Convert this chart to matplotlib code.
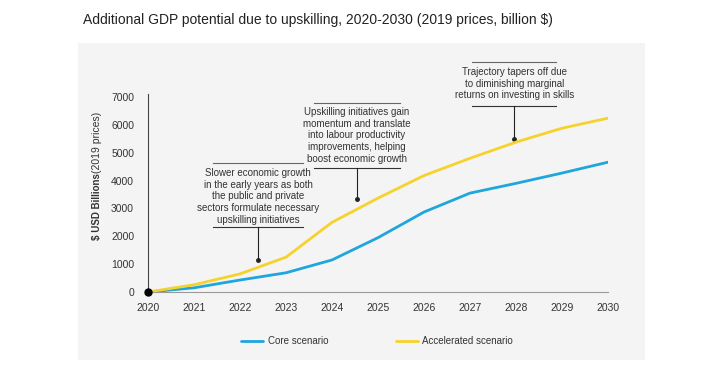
import matplotlib.pyplot as plt
from matplotlib.patches import Rectangle

plt.rcParams['font.family'] = ['Liberation Sans', 'DejaVu Sans']

years = [2020, 2021, 2022, 2023, 2024, 2025, 2026, 2027, 2028, 2029, 2030]
core = [0, 150, 430, 690, 1150, 1950, 2870, 3550, 3900, 4270, 4660]
accelerated = [0, 260, 650, 1250, 2500, 3370, 4180, 4800, 5380, 5880, 6240]
yticks = [0, 1000, 2000, 3000, 4000, 5000, 6000, 7000]

notes = [
    "Slower economic growth\nin the early years as both\nthe public and private\nsectors formulate necessary\nupskilling initiatives",
    "Upskilling initiatives gain\nmomentum and translate\ninto labour productivity\nimprovements, helping\nboost economic growth",
    "Trajectory tapers off due\nto diminishing marginal\nreturns on investing in skills",
]
# (x centre, half width, top rule, bottom rule, text centre, arrow tip)
note_pos = [
    (2022.39, 0.98, 4630, 2330, 3430, 1150),
    (2024.54, 0.93, 6800, 4450, 5620, 3340),
    (2027.96, 0.92, 8260, 6680, 7480, 5490),
]

blue = '#1ea6dd'
yellow = '#f5d22c'
txt = '#333333'

fig = plt.figure(figsize=(7.2, 3.79), dpi=100)
fig.patch.set_facecolor('white')
fig.patches.append(Rectangle((78 / 720, 1 - 360 / 379), (645 - 78) / 720, (360 - 43) / 379,
                             transform=fig.transFigure, facecolor='#f5f4f4',
                             edgecolor='none', zorder=-1))

fig.text(83 / 720, 1 - 20 / 379, "Additional GDP potential due to upskilling, 2020-2030 (2019 prices, billion \\$)",
         fontsize=10, color='#222222', va='center', ha='left')

ax = fig.add_axes([148 / 720, 1 - 292 / 379, 460 / 720, 195 / 379])
ax.set_zorder(2)
ax.set_facecolor('none')
ax.plot(years, core, color=blue, lw=2, label='Core scenario', zorder=3, solid_capstyle='round')
ax.plot(years, accelerated, color=yellow, lw=2, label='Accelerated scenario', zorder=3,
        solid_capstyle='round')
ax.plot([years[0]], [core[0]], 'o', color='black', ms=5, clip_on=False, zorder=5)

ax.set_xlim(2020, 2030)
ax.set_ylim(0, 7000)
ax.set_xticks(years)
ax.set_yticks(yticks)
ax.tick_params(length=0, labelsize=7.5, labelcolor=txt, pad=8)
ax.tick_params(axis='y', pad=10)
for s in ['top', 'right']:
    ax.spines[s].set_visible(False)
ax.spines['left'].set_color('#444444')
ax.spines['bottom'].set_color('#999999')
ax.spines['left'].set_bounds(0, 7100)

for text, (xc, hw, top, bot, tc, tip) in zip(notes, note_pos):
    ax.plot([xc - hw, xc + hw], [top, top], color='#666666', lw=0.8, clip_on=False)
    ax.plot([xc - hw, xc + hw], [bot, bot], color='#333333', lw=0.8, clip_on=False)
    ax.plot([xc, xc], [bot, tip], color='#222222', lw=0.8, clip_on=False)
    ax.plot([xc], [tip], 'o', color='#222222', ms=2.5, clip_on=False)
    ax.text(xc, tc, text, ha='center', va='center', fontsize=7, color=txt,
            linespacing=1.2, clip_on=False)

fig.text(97 / 720, 1 - 240 / 379, "\\$ USD Billions", rotation=90, ha='center', va='bottom',
         fontsize=7, fontweight='bold', color=txt)
fig.text(97 / 720, 1 - 173 / 379, "(2019 prices)", rotation=90, ha='center', va='bottom',
         fontsize=7.5, color=txt)

fig.legend(loc='center', bbox_to_anchor=(0.524, 1 - 341 / 379), ncol=2, frameon=False,
           fontsize=7, handlelength=2.2, columnspacing=7, handletextpad=0.5,
           labelcolor=txt)

fig.savefig('out.png', dpi=100)
